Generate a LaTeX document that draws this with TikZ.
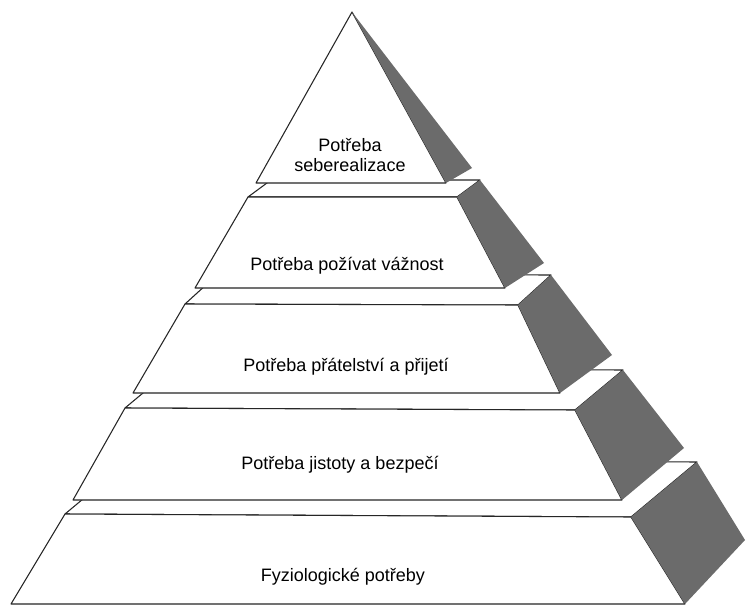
\documentclass[tikz,border=0pt]{standalone}
\usepackage{fontspec}
\setmainfont{Liberation Sans}
\usepackage{xcolor}
\usepackage{tikz}

\tikzset{
  tierface/.style={draw=black!85, line width=0.8pt, fill=white, line join=round},
  sideface/.style={fill=black!58},
  tiertext/.style={font=\fontsize{13.5}{15}\selectfont, align=center, inner sep=0.75pt}
}

\begin{document}
\begin{tikzpicture}[x=0.75pt,y=0.75pt,yscale=-1,xscale=1]
	\useasboundingbox (0,0) rectangle (746,607);

	%Shape: Ledge [tier 5]
	\draw [tierface] (65,514) -- (631,517) -- (697,462) -- (131,459) -- cycle ;
	%Shape: Front [tier 5]
	\draw [tierface] (65,514) -- (631,517) -- (685,604) -- (11,604) -- cycle ;
	%Shape: Side [tier 5]
	\fill [sideface] (631,517) -- (697,462) -- (745,540) -- (685,604) -- cycle ;

	%Shape: Ledge [tier 4]
	\draw [tierface] (125,408) -- (575,410) -- (623,370) -- (173,368) -- cycle ;
	%Shape: Front [tier 4]
	\draw [tierface] (125,408) -- (575,410) -- (622,500) -- (73,500) -- cycle ;
	%Shape: Side [tier 4]
	\fill [sideface] (575,410) -- (623,370) -- (684,448) -- (622,500) -- cycle ;

	%Shape: Ledge [tier 3]
	\draw [tierface] (185,304) -- (518,305) -- (551,275) -- (218,274) -- cycle ;
	%Shape: Front [tier 3]
	\draw [tierface] (185,304) -- (518,305) -- (560,393) -- (133,393) -- cycle ;
	%Shape: Side [tier 3]
	\fill [sideface] (518,305) -- (551,275) -- (612,355) -- (560,393) -- cycle ;

	%Shape: Ledge [tier 2]
	\draw [tierface] (248,197) -- (457,197) -- (480,180) -- (271,180) -- cycle ;
	%Shape: Front [tier 2]
	\draw [tierface] (248,197) -- (457,197) -- (505,288) -- (195,288) -- cycle ;
	%Shape: Side [tier 2]
	\fill [sideface] (457,197) -- (480,180) -- (544,263) -- (505,288) -- cycle ;

	%Shape: Front [tier 1]
	\draw [tierface] (352,12) -- (446,183) -- (256,183) -- cycle ;
	%Shape: Side [tier 1]
	\fill [sideface] (352,12) -- (472,168) -- (446,183) -- cycle ;

	% Text Node
	\node [tiertext] (selfreal) at (350,155) {Potřeba\\seberealizace};
	% Text Node
	\node [tiertext] (esteem) at (347,266) {Potřeba požívat vážnost};
	% Text Node
	\node [tiertext] (belong) at (346,367) {Potřeba přátelství a přijetí};
	% Text Node
	\node [tiertext] (safety) at (340,465) {Potřeba jistoty a bezpečí};
	% Text Node
	\node [tiertext] (physio) at (343,577) {Fyziologické potřeby};
\end{tikzpicture}
\end{document}
